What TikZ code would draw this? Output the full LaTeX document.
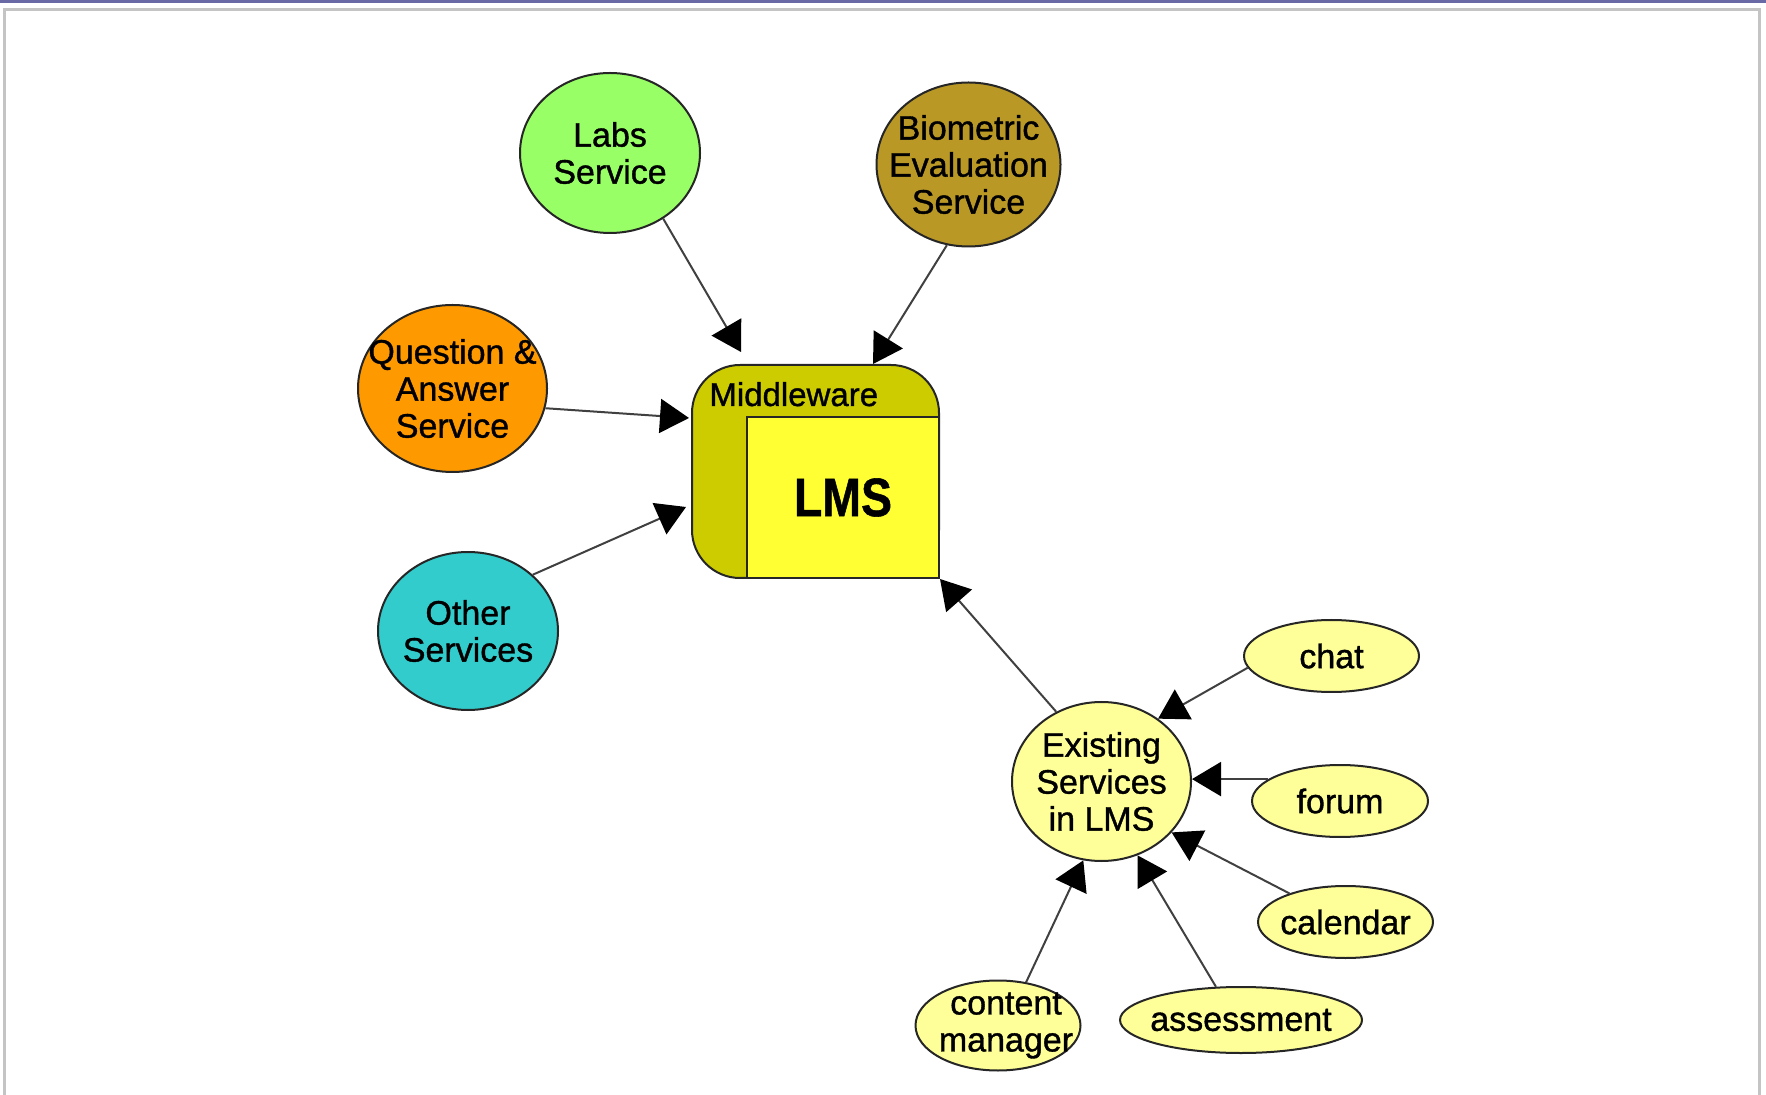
\documentclass[tikz,border=0pt]{standalone}
\usepackage{fontspec}
\setmainfont{Liberation Sans}[FakeBold=1]
\newfontfamily\lblfont{Liberation Sans}[FakeBold=1.1]
\usetikzlibrary{arrows.meta,shapes.geometric,calc}
\definecolor{framepurple}{RGB}{105,105,165}
\definecolor{framegray}{RGB}{196,196,196}
\definecolor{labsgreen}{RGB}{153,255,102}
\definecolor{bioolive}{RGB}{185,152,38}
\definecolor{qaorange}{RGB}{255,153,0}
\definecolor{othercyan}{RGB}{51,204,204}
\definecolor{mwolive}{RGB}{204,204,0}
\definecolor{lmsyellow}{RGB}{255,255,51}
\definecolor{paleyellow}{RGB}{255,255,153}
\begin{document}
\begin{tikzpicture}[x=0.5pt,y=-0.5pt,
  svc/.style={ellipse, draw=black!85, line width=1pt, inner sep=0pt},
  txt/.style={align=center, inner sep=0pt, font=\lblfont\fontsize{17}{18.5}\selectfont},
  box/.style={rectangle, draw=black!85, line width=1pt, inner sep=0pt},
  arr/.style={draw=black!75, line width=1pt, -{Triangle[length=14.5pt,width=17pt,color=black,fill=black]}}]
\useasboundingbox (0,0) rectangle (1766,1095);
% page frame
\fill[framepurple] (0,0) rectangle (1766,3.3);
\draw[framegray, line width=1.3pt] (4.6,1095) -- (4.6,9.3) -- (1759.7,9.3) -- (1759.7,1095);

% middleware container and LMS core
\node[box, fill=mwolive, rounded corners=24pt, minimum width=123.5pt, minimum height=106.5pt] (mw) at (815.5,471.5) {};
\node[box, fill=lmsyellow, minimum width=96pt, minimum height=80.5pt,
      font=\fontsize{27}{27}\selectfont\bfseries] (lms) at (843,497.5) {\scalebox{0.86}[1]{LMS}};
\node[anchor=base west, inner sep=0pt, font=\lblfont\fontsize{16.5}{16.5}\selectfont] (mwtext) at (709,406) {Middleware};

% external services
\node[svc, fill=labsgreen, minimum width=90pt, minimum height=80pt,
      label={[txt]center:Labs\\Service}] (labs) at (610,153) {};
\node[svc, fill=bioolive, minimum width=92pt, minimum height=82pt,
      label={[txt]center:Biometric\\Evaluation\\Service}] (bio) at (968.5,164.5) {};
\node[svc, fill=qaorange, minimum width=94.5pt, minimum height=83.5pt,
      label={[txt]center:Question \&\\Answer\\Service}] (qa) at (452.5,388.5) {};
\node[svc, fill=othercyan, minimum width=90pt, minimum height=79pt,
      label={[txt]center:Other\\Services}] (other) at (468,631) {};

% existing LMS services
\node[svc, fill=paleyellow, minimum width=89.5pt, minimum height=79.5pt,
      label={[txt]center:Existing\\Services\\in LMS}] (ex) at (1101.5,781.5) {};
\node[svc, fill=paleyellow, minimum width=87.5pt, minimum height=36pt,
      label={[txt]center:chat}] (chat) at (1331.5,656) {};
\node[svc, fill=paleyellow, minimum width=88pt, minimum height=36pt,
      label={[txt]center:forum}] (forum) at (1340,801) {};
\node[svc, fill=paleyellow, minimum width=87.5pt, minimum height=36pt,
      label={[txt]center:calendar}] (calendar) at (1345.5,922) {};
\node[svc, fill=paleyellow, minimum width=121pt, minimum height=33pt,
      label={[txt]center:assessment}] (assess) at (1241,1020) {};
\node[svc, fill=paleyellow, minimum width=82.5pt, minimum height=45pt,
      label={[txt, xshift=4pt]center:content\\manager}] (content) at (998,1025.5) {};

% connectors into the middleware
\draw[arr] (labs.-51) -- ($(mw.north west)+(50,-12)$);
\draw[arr] (bio.-105) -- ($(mw.north west)+(182,0)$);
\draw[arr] (qa.-12) -- ($(mw.north west)+(-2,54)$);
\draw[arr] (other.41) -- ($(mw.north west)+(-5,143)$);
\draw[arr] (ex.123) -- (lms.south east);

% connectors into the existing services
\draw[arr] (chat.188) -- (ex.48);
\draw[arr] (forum.163) -- (forum.163 -| ex.east);
\draw[arr] (calendar.153) -- (ex.-36);
\draw[arr] (assess.127) -- (ex.-64);
\draw[arr] (content.57) -- (ex.-103);
\end{tikzpicture}
\end{document}
